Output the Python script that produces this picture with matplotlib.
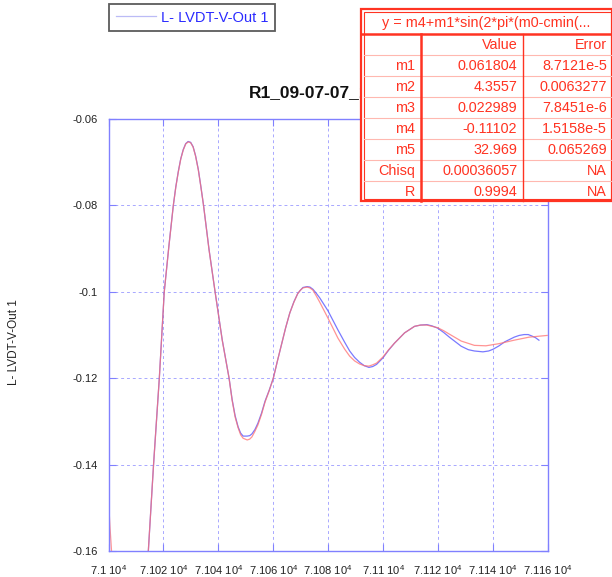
import matplotlib
matplotlib.use("Agg")
import matplotlib.pyplot as plt
from matplotlib.patches import Rectangle
from matplotlib.lines import Line2D

plt.rcParams['font.family'] = ['Liberation Sans', 'DejaVu Sans']
plt.rcParams['mathtext.fontset'] = 'custom'
plt.rcParams['mathtext.rm'] = 'Liberation Sans'

# measured data (L- LVDT-V-Out 1)
data_x = [71014.5, 71016.4, 71018.5, 71020.3, 71022.0, 71023.6, 71024.5, 71025.4, 71026.3,
          71027.2, 71028.1, 71029.0, 71029.9, 71030.8, 71031.7, 71032.7, 71033.6, 71034.6,
          71036.6, 71038.8, 71041.4, 71043.9, 71045.0, 71046.1, 71047.2, 71048.1, 71049.0,
          71050.5, 71051.4, 71052.2, 71053.3, 71054.4, 71055.7, 71057.0, 71058.5, 71060.0,
          71061.5, 71063.1, 71064.5, 71066.0,
          71067.5, 71068.9, 71069.9, 71070.8, 71072.3, 71073.3, 71074.4, 71075.6, 71076.9,
          71079.9, 71083.5, 71086.0, 71087.8, 71089.6, 71091.4, 71093.1, 71094.8, 71096.2,
          71097.6, 71099.9, 71102.0, 71104.1, 71107.8, 71111.4, 71113.6, 71115.9, 71117.8,
          71119.8, 71122.0, 71124.1, 71128.4, 71131.0, 71133.2, 71136.3, 71138.4, 71140.0,
          71142.2, 71144.2, 71147.7, 71149.5, 71151.3, 71152.8, 71154.0, 71155.4, 71156.7]
data_y = [-0.1600, -0.1400, -0.1200, -0.1000, -0.0893, -0.0800, -0.0757, -0.0722, -0.0692,
          -0.0671, -0.0657, -0.0652, -0.0654, -0.0664, -0.0685, -0.0717, -0.0755, -0.0800,
          -0.0902, -0.1000, -0.1111, -0.1200, -0.1249, -0.1287, -0.1313, -0.1327, -0.1334,
          -0.1334, -0.1333, -0.1329, -0.1319, -0.1304, -0.1281, -0.1253, -0.1228, -0.1200,
          -0.1160, -0.1119, -0.1083, -0.1049,
          -0.1023, -0.1004, -0.0996, -0.0990, -0.0988, -0.0989, -0.0994, -0.1003, -0.1014,
          -0.1044, -0.1088, -0.1117, -0.1137, -0.1152, -0.1163, -0.1171, -0.1175, -0.1173,
          -0.1168, -0.1153, -0.1135, -0.1119, -0.1095, -0.1080, -0.1077, -0.1076, -0.1079,
          -0.1084, -0.1094, -0.1105, -0.1126, -0.1134, -0.1137, -0.1139, -0.1137, -0.1133,
          -0.1125, -0.1116, -0.1105, -0.1101, -0.1099, -0.1099, -0.1102, -0.1106, -0.1112]

# fitted curve
fit_x = [71000.0, 71000.5, 71001.1, 71007.3, 71014.5, 71016.4, 71018.5, 71020.3, 71022.0,
         71023.6, 71024.5, 71025.4, 71026.3, 71027.2, 71028.1, 71029.0, 71029.9, 71030.8,
         71031.7, 71032.7, 71033.6, 71034.6, 71036.6, 71038.8, 71041.4, 71043.9, 71045.0,
         71046.1, 71047.2, 71048.1, 71049.0, 71050.5, 71051.4, 71052.2, 71053.3, 71054.4,
         71055.7, 71057.0, 71058.5, 71060.0, 71061.5, 71063.1, 71064.5,
         71066.0, 71067.5, 71068.9, 71069.9, 71070.8, 71072.3,
         71073.3, 71074.4, 71075.6, 71076.9, 71079.9, 71083.5, 71086.0, 71087.8, 71089.6,
         71091.4, 71093.1, 71094.8, 71096.2, 71097.6, 71099.9, 71102.0, 71104.1, 71107.8,
         71111.4, 71113.6, 71115.9, 71117.8, 71119.8, 71122.0, 71124.1, 71128.4, 71133.2,
         71137.4, 71142.2, 71147.7, 71153.1, 71159.7]
fit_y = [-0.1482, -0.1540, -0.1600, -0.1806, -0.1600, -0.1400, -0.1200, -0.1000, -0.0894,
         -0.0800, -0.0758, -0.0723, -0.0693, -0.0672, -0.0658, -0.0653, -0.0655, -0.0665,
         -0.0686, -0.0718, -0.0756, -0.0800, -0.0903, -0.1000, -0.1112, -0.1200, -0.1251,
         -0.1290, -0.1315, -0.1331, -0.1339, -0.1343, -0.1341, -0.1336, -0.1323, -0.1308,
         -0.1284, -0.1255, -0.1229, -0.1200, -0.1160, -0.1119, -0.1083,
         -0.1049, -0.1024, -0.1004, -0.0996, -0.0991, -0.0989,
         -0.0991, -0.0996, -0.1009, -0.1024, -0.1061, -0.1107, -0.1133, -0.1149, -0.1160,
         -0.1167, -0.1171, -0.1172, -0.1169, -0.1165, -0.1151, -0.1134, -0.1119, -0.1095,
         -0.1080, -0.1077, -0.1077, -0.1080, -0.1083, -0.1090, -0.1098, -0.1114, -0.1124,
         -0.1125, -0.1120, -0.1112, -0.1105, -0.1101]

x_ticks = [71000, 71020, 71040, 71060, 71080, 71100, 71120, 71140, 71160]
y_ticks = [-0.16, -0.14, -0.12, -0.1, -0.08, -0.06]

fit_equation = "y = m4+m1*sin(2*pi*(m0-cmin(..."
fit_params = ["m1", "m2", "m3", "m4", "m5", "Chisq", "R"]
fit_values = ["0.061804", "4.3557", "0.022989", "-0.11102", "32.969", "0.00036057", "0.9994"]
fit_errors = ["8.7121e-5", "0.0063277", "7.8451e-6", "1.5158e-5", "0.065269", "NA", "NA"]

W, H = 612, 577
fig = plt.figure(figsize=(W / 100, H / 100), dpi=100)
ax = fig.add_axes([108.5 / W, 1 - 551 / H, 439.5 / W, 432 / H])

axis_blue = '#8080ff'
ax.plot(data_x, data_y, color='#6262ff', lw=0.9, alpha=0.85, label='L- LVDT-V-Out 1')
ax.plot(fit_x, fit_y, color='#ff7070', lw=0.9, alpha=0.75)

ax.set_xlim(71000, 71160)
ax.set_ylim(-0.16, -0.06)
ax.set_xticks(x_ticks)
ax.set_yticks(y_ticks)
ax.set_xticklabels([f"{v / 1e4:g} 10$^{{4}}$" for v in x_ticks])
ax.set_yticklabels([f"{v:g}" for v in y_ticks])
ax.tick_params(direction='in', length=5, color=axis_blue, width=0.8, labelsize=8,
               labelcolor='#222222', top=True, right=True)
ax.tick_params(axis='y', pad=8)
ax.tick_params(axis='x', pad=9)
for s in ax.spines.values():
    s.set_color(axis_blue)
    s.set_linewidth(1.0)
ax.grid(True, color='#a8a8ff', linestyle=(0, (3, 3)), linewidth=0.7)

ax.set_ylabel('L- LVDT-V-Out 1', fontsize=8.5, color='#222222')
ax.yaxis.set_label_coords(-0.201, 0.4845)

fig.text(249 / W, 1 - 97 / H, 'R1_09-07-07_1', fontsize=12.5, fontweight='bold',
         ha='left', va='baseline', color='#111111')

leg = ax.legend(loc='upper left', bbox_to_anchor=(109 / W, 1 - 4 / H),
                bbox_transform=fig.transFigure, fontsize=10.5, frameon=True, fancybox=False,
                borderpad=0.45, handlelength=2.8, handletextpad=0.3, borderaxespad=0,
                labelcolor='#2a2aff')
leg.get_frame().set_edgecolor('#333333')
leg.get_frame().set_linewidth(1.3)
leg.get_lines()[0].set_color('#b0b0f5')


# fit results table, drawn in pixel coordinates from the top-left corner
def fx(px):
    return px / W


def fy(py):
    return 1 - py / H


red = '#ff3322'
pink = '#ffb8b0'
tl, tr, tt, tb = 361, 612, 9.5, 201.5
col1, col2 = 421, 523.3
head_b = 33.5
row_h = 21
fs = 10.4

fig.add_artist(Rectangle((fx(tl), fy(tb)), fx(tr) - fx(tl), fy(tt) - fy(tb),
                         transform=fig.transFigure, facecolor='white', edgecolor=red,
                         lw=1.6, zorder=10))
fig.add_artist(Rectangle((fx(tl + 2.5), fy(tb - 2.5)), fx(tr) - fx(tl + 2.5),
                         fy(tt + 2.5) - fy(tb - 2.5), transform=fig.transFigure,
                         facecolor='none', edgecolor=red, lw=0.8, zorder=11))
for i in range(1, len(fit_params) + 1):
    yy = head_b + i * row_h
    if yy < tb - 3:
        fig.add_artist(Line2D([fx(tl + 2.5), fx(tr)], [fy(yy), fy(yy)],
                              transform=fig.transFigure, color=pink, lw=0.8, zorder=11))
fig.add_artist(Line2D([fx(tl), fx(tr)], [fy(head_b), fy(head_b)],
                      transform=fig.transFigure, color=red, lw=1.8, zorder=12))
fig.add_artist(Line2D([fx(col1), fx(col1)], [fy(head_b), fy(tb)],
                      transform=fig.transFigure, color=red, lw=1.8, zorder=12))
fig.add_artist(Line2D([fx(col2), fx(col2)], [fy(head_b), fy(tb)],
                      transform=fig.transFigure, color=red, lw=1.0, zorder=12))

fig.text(fx((tl + tr) / 2), fy((tt + head_b) / 2 + 1), fit_equation, color=red,
         fontsize=fs, ha='center', va='center', zorder=13)
fig.text(fx(col2 - 6), fy(head_b + row_h / 2 + 1), 'Value', color=red, fontsize=fs,
         ha='right', va='center', zorder=13)
fig.text(fx(tr - 5), fy(head_b + row_h / 2 + 1), 'Error', color=red, fontsize=fs,
         ha='right', va='center', zorder=13)
for i, (p, v, e) in enumerate(zip(fit_params, fit_values, fit_errors)):
    yc = fy(head_b + (i + 1.5) * row_h + 1)
    fig.text(fx(col1 - 6), yc, p, color=red, fontsize=fs, ha='right', va='center', zorder=13)
    fig.text(fx(col2 - 6), yc, v, color=red, fontsize=fs, ha='right', va='center', zorder=13)
    fig.text(fx(tr - 5), yc, e, color=red, fontsize=fs, ha='right', va='center', zorder=13)

fig.savefig('out.png', dpi=100)
